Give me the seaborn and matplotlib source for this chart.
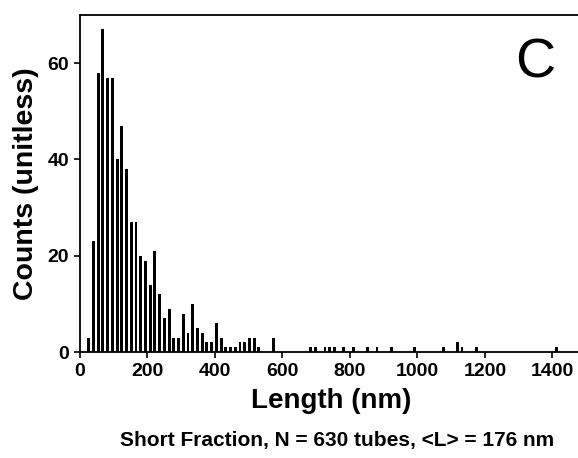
import matplotlib
matplotlib.use("Agg")
import matplotlib.pyplot as plt
import seaborn as sns
import pandas as pd

# ---- data (bin centers in nm, counts per bin) ----
length_nm = [26, 40, 54, 68, 82, 96, 110, 124, 138, 152, 166, 180, 194, 208,
             222, 236, 250, 264, 278, 292, 306, 320, 334, 348, 362, 376, 390,
             404, 418, 432, 446, 460, 474, 488, 502, 516, 530, 572,
             684, 698, 726, 740, 754, 782, 810, 852, 880, 922, 992, 1076,
             1118, 1132, 1174, 1412]
counts = [3, 23, 58, 67, 57, 57, 40, 47, 38, 27, 27, 20, 19, 14,
          21, 12, 7, 9, 3, 3, 8, 4, 10, 5, 4, 2, 2,
          6, 3, 1, 1, 1, 2, 2, 3, 3, 1, 3,
          1, 1, 1, 1, 1, 1, 1, 1, 1, 1, 1, 1,
          2, 1, 1, 1]
x_ticks = [0, 200, 400, 600, 800, 1000, 1200, 1400]
y_ticks = [0, 20, 40, 60]
x_label = "Length (nm)"
y_label = "Counts (unitless)"
caption = "Short Fraction, N = 630 tubes, <L> = 176 nm"
panel_letter = "C"

df = pd.DataFrame({"length": length_nm, "count": counts})

sns.set_style("ticks")
plt.rcParams["font.family"] = ["Liberation Sans", "DejaVu Sans"]
plt.rcParams["text.color"] = "black"
plt.rcParams["axes.labelcolor"] = "black"
plt.rcParams["xtick.color"] = "black"
plt.rcParams["ytick.color"] = "black"

fig = plt.figure(figsize=(5.78, 4.58), dpi=100)
ax = fig.add_axes([0.1384, 0.2314, 0.87, 0.7358])

sns.histplot(data=df, x="length", weights="count", binwidth=14,
             binrange=(19, 1419), shrink=0.62, color="black", alpha=1,
             edgecolor="none", linewidth=0, ax=ax)

ax.set_xlim(0, 1490)
ax.set_ylim(0, 70)
ax.set_xticks(x_ticks)
ax.set_yticks(y_ticks)
ax.set_xticklabels([str(t) for t in x_ticks], fontsize=14, fontweight="bold",
                   color="black")
ax.set_yticklabels([str(t) for t in y_ticks], fontsize=14, fontweight="bold",
                   color="black")
ax.tick_params(axis="both", direction="out", length=4, width=1.2,
               color="black", labelcolor="black", pad=4)
for side in ["left", "bottom", "top", "right"]:
    ax.spines[side].set_visible(True)
    ax.spines[side].set_linewidth(1.3)
    ax.spines[side].set_color("black")

ax.set_xlabel(x_label, fontsize=20, fontweight="bold", labelpad=6,
              color="black")
ax.set_ylabel(y_label, fontsize=20.5, fontweight="bold", labelpad=6,
              color="black")

ax.text(0.905, 0.857, panel_letter, transform=ax.transAxes, fontsize=40,
        ha="center", va="center", color="black")

fig.text(0.583, 0.039, caption, fontsize=15, fontweight="bold",
         ha="center", va="center", color="black")

fig.savefig("out.png", dpi=100)
